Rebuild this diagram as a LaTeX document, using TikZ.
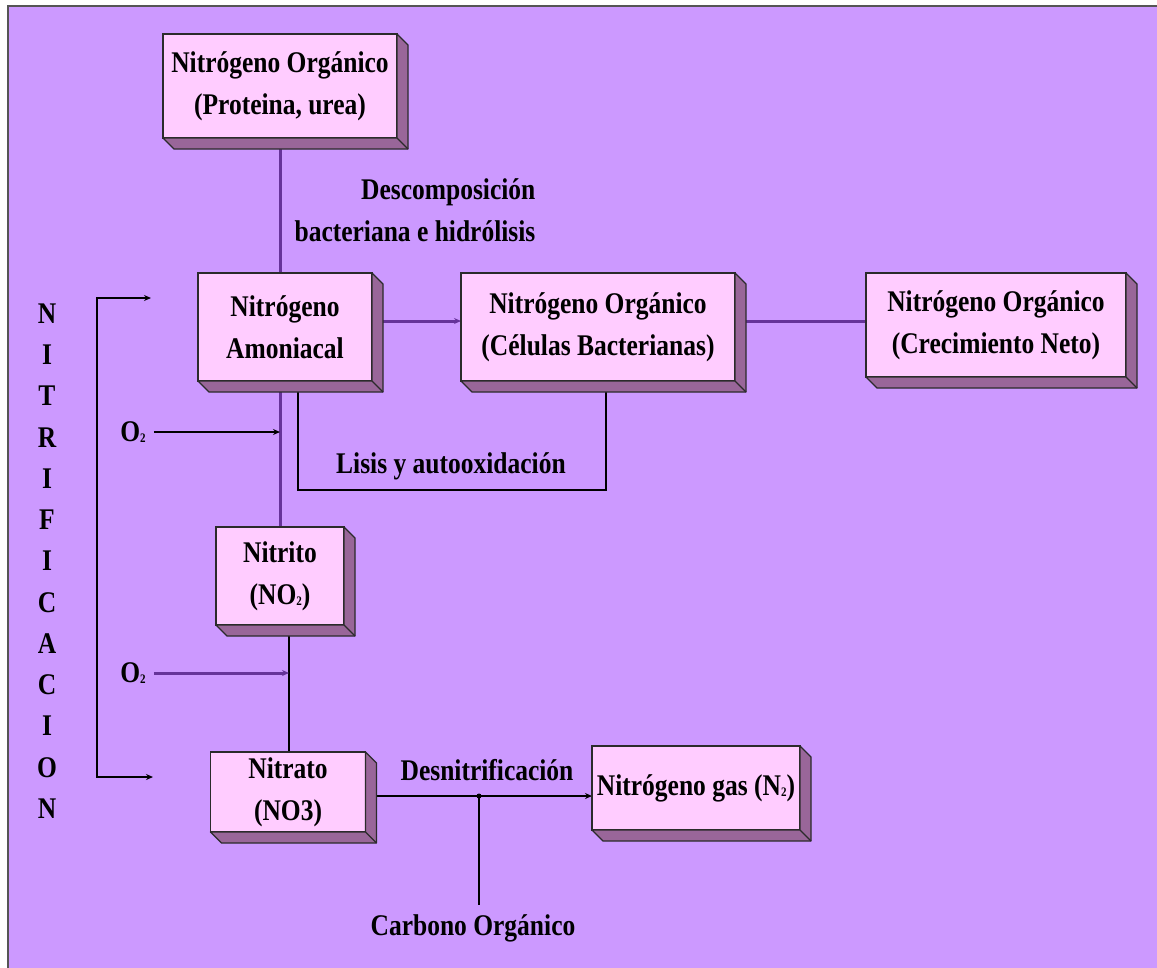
\documentclass[tikz,border=0pt]{standalone}
\usepackage{fontspec}
\setmainfont{Liberation Serif}[FakeStretch=0.85]
\usetikzlibrary{calc,arrows.meta}

\definecolor{bgpurple}{HTML}{CC99FF}
\definecolor{boxfill}{HTML}{FFCCFF}
\definecolor{sidefill}{HTML}{996699}
\definecolor{wirepurple}{HTML}{663399}
\definecolor{edgedark}{HTML}{2B2B2B}

\pgfdeclarelayer{bg}
\pgfdeclarelayer{wires}
\pgfsetlayers{bg,wires,main}

% small chemical index
\newcommand\chemsub[1]{\raisebox{-1pt}{\fontsize{13}{13}\selectfont #1}}

\tikzset{
  txt/.style={font=\fontsize{30}{42}\selectfont\bfseries, text=black, inner sep=0pt},
  box/.style={txt, draw=edgedark, line width=1.5pt, fill=boxfill,
    align=center, outer sep=0pt},
  side/.style={draw=edgedark, line width=1.3pt, fill=sidefill, line join=round},
  pwire/.style={draw=wirepurple, line width=3pt},
  kwire/.style={draw=black, line width=1.8pt},
  tip/.style={-{Stealth[length=7pt,width=6pt]}},
}

% extruded right and bottom faces of a box node
\newcommand\extrude[1]{%
  \filldraw[side] (#1.north east) -- ++(11,11) -- ($(#1.south east)+(11,11)$)
    -- ($(#1.south west)+(11,11)$) -- (#1.south west) -- (#1.south east) -- cycle;
  \draw[side] (#1.south east) -- ++(11,11);}

\begin{document}
\begin{tikzpicture}[x=1pt,y=-1pt]
\useasboundingbox (0,0) rectangle (1157,967);
\clip (0,0) rectangle (1157,967);

\begin{pgfonlayer}{bg}
  \draw[fill=bgpurple, draw=edgedark!80, line width=2pt] (8,6) rectangle (1175,985);
\end{pgfonlayer}

% boxes
\node[box, minimum width=234pt, minimum height=104pt] (orgn) at (280,86)
  {Nitrógeno Orgánico\\(Proteina, urea)};
\extrude{orgn}
\node[box, minimum width=174pt, minimum height=108pt] (amon) at (285,327)
  {Nitrógeno\\Amoniacal};
\extrude{amon}
\node[box, minimum width=274pt, minimum height=108pt] (cel) at (598,327)
  {Nitrógeno Orgánico\\(Células Bacterianas)};
\extrude{cel}
\node[box, minimum width=260pt, minimum height=104pt] (crec) at (996,325)
  {Nitrógeno Orgánico\\(Crecimiento Neto)};
\extrude{crec}
\node[box, minimum width=128pt, minimum height=98pt] (nito) at (280,576)
  {Nitrito\\(NO\chemsub{2})};
\extrude{nito}
\node[box, minimum width=155pt, minimum height=80pt] (nato) at (288,792)
  {Nitrato\\(NO3)};
\extrude{nato}
\node[box, minimum width=208pt, minimum height=84pt] (ngas) at (696,788)
  {Nitrógeno gas (N\chemsub{2})};
\extrude{ngas}

% free labels
\node[txt, align=right] (desc) at (415,210)
  {Descomposición\\bacteriana e hidrólisis};
\node[txt] (lisis) at (451,466) {Lisis y autooxidación};
\node[txt] (oxa) at (133,432) {O\chemsub{2}};
\node[txt] (oxb) at (133,673) {O\chemsub{2}};
\node[txt] (desn) at (487,770) {Desnitrificación};
\node[txt] (carb) at (473,928) {Carbono Orgánico};
\node[txt, font=\fontsize{30}{41.25}\selectfont\bfseries, align=center] (nitr) at (47,561)
  {N\\I\\T\\R\\I\\F\\I\\C\\A\\C\\I\\O\\N};

% helper points
\coordinate (lisA) at (298,385);
\coordinate (lisD) at (606,385);
\coordinate (nn) at ($(nito.south)+(9,0)$);
\coordinate (dn) at (479,796);
\coordinate (brT) at (97,298);
\coordinate (brB) at (97,777);
\coordinate (arT) at (151,298);
\coordinate (arB) at (153,777);

\begin{pgfonlayer}{wires}
  \draw[pwire] (orgn.south) -- (orgn.south |- amon.north);
  \draw[pwire, tip] ($(amon.east)+(0,-6)$) -- ($(cel.west)+(0,-6)$);
  \draw[pwire] ($(cel.east)+(0,-6)$) -- ($(crec.west)+(0,-4)$);
  \draw[pwire] (nito.north |- amon.south) -- (nito.north);
  \draw[kwire, tip] ($(oxa.east)+(8,0)$) -- (oxa.east -| nito.north);
  \draw[kwire] (lisA) -- ++(0,105) -| (lisD);
  \draw[kwire] (nn) -- (nn |- nato.north);
  \draw[pwire, tip] ($(oxb.east)+(8,0)$) -- (oxb.east -| nn);
  \draw[kwire, tip] ($(nato.east)+(0,4)$) -- ($(ngas.west)+(0,8)$);
  \draw[kwire] (dn) -- ++(0,109);
  \fill (dn) circle (2.5pt);
  \draw[kwire, {Stealth[length=7pt,width=6pt]}-{Stealth[length=7pt,width=6pt]}]
    (arT) -- (brT) -- (brB) -- (arB);
\end{pgfonlayer}
\end{tikzpicture}
\end{document}
